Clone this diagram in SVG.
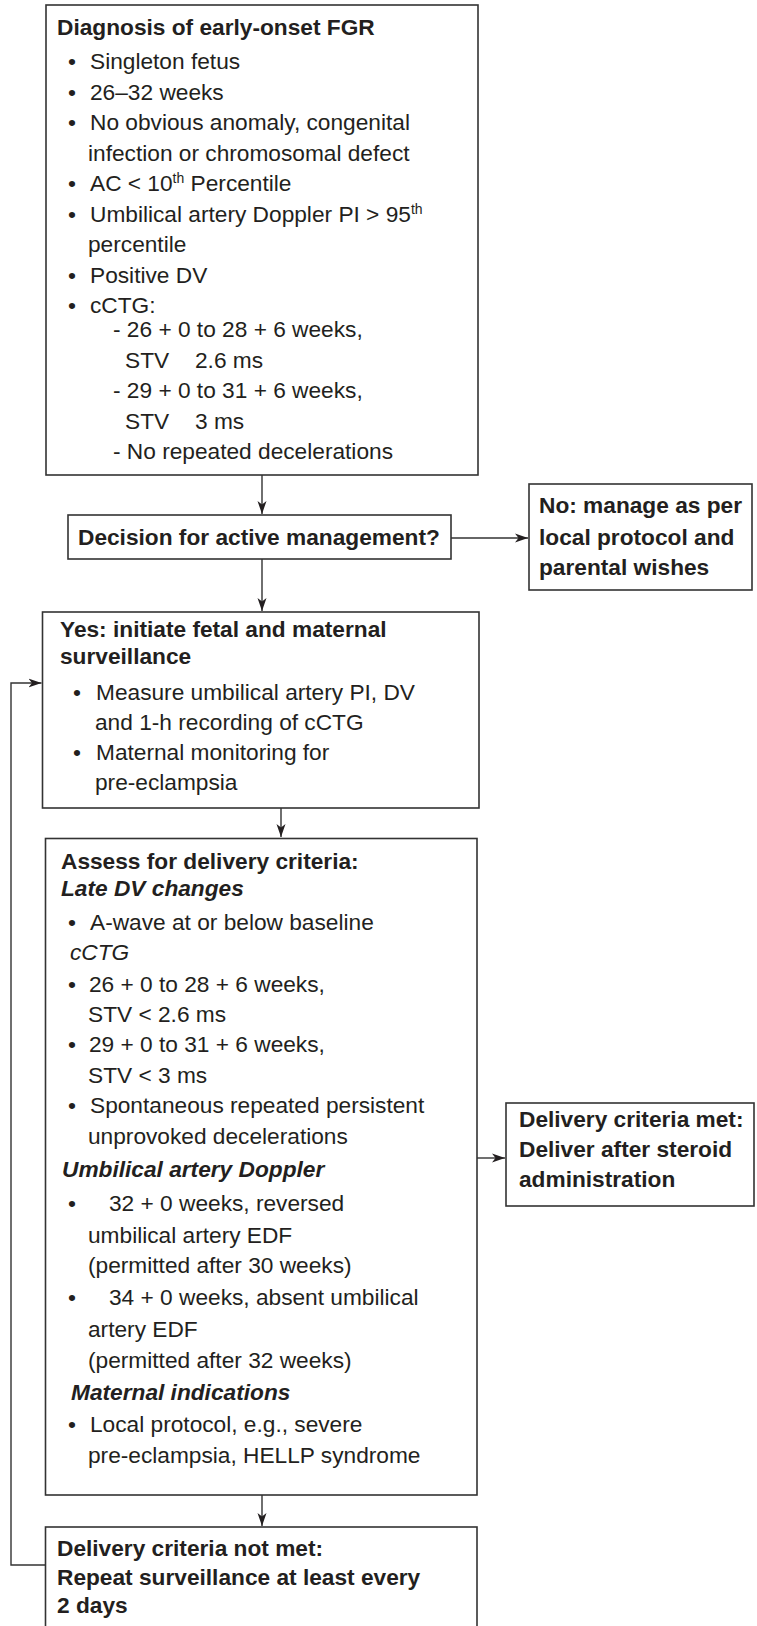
<svg xmlns="http://www.w3.org/2000/svg" width="757" height="1626" viewBox="0 0 757 1626">
<style>
text{font-family:"Liberation Sans",Arial,Helvetica,sans-serif;font-size:22.7px;fill:#231f20}
.b{font-weight:bold}
.i{font-style:italic}
.bi{font-weight:bold;font-style:italic}
.box{fill:#fff;stroke:#333;stroke-width:1.6}
.con{fill:none;stroke:#333;stroke-width:1.4}
</style>
<defs>
<marker id="ah" markerUnits="userSpaceOnUse" markerWidth="14" markerHeight="10" viewBox="0 0 14 10" refX="13" refY="5" orient="auto">
<path d="M0,0.5 L13,5 L0,9.5 L3.5,5 Z" fill="#231f20"/>
</marker>
</defs>
<rect width="757" height="1626" fill="#fff"/>

<g id="connectors">
<line class="con" x1="262" y1="475" x2="262" y2="514" marker-end="url(#ah)"/>
<line class="con" x1="262" y1="559" x2="262" y2="611" marker-end="url(#ah)"/>
<line class="con" x1="451" y1="538" x2="528" y2="538" marker-end="url(#ah)"/>
<line class="con" x1="281" y1="808" x2="281" y2="837" marker-end="url(#ah)"/>
<line class="con" x1="477" y1="1158" x2="505" y2="1158" marker-end="url(#ah)"/>
<line class="con" x1="262" y1="1495" x2="262" y2="1526" marker-end="url(#ah)"/>
<polyline class="con" points="45.5,1565 11,1565 11,683 41.5,683" marker-end="url(#ah)"/>
</g>

<g id="diagnosis">
<rect class="box" x="46" y="5" width="432" height="470"/>
<text class="b" x="57" y="35">Diagnosis of early-onset FGR</text>
<text x="68" y="69">•</text><text x="90" y="69">Singleton fetus</text>
<text x="68" y="100">•</text><text x="90" y="100">26–32 weeks</text>
<text x="68" y="130">•</text><text x="90" y="130">No obvious anomaly, congenital</text>
<text x="88" y="161">infection or chromosomal defect</text>
<text x="68" y="191">•</text><text x="90" y="191">AC &lt; 10<tspan dy="-8" font-size="14">th</tspan><tspan dy="8"> Percentile</tspan></text>
<text x="68" y="222">•</text><text x="90" y="222">Umbilical artery Doppler PI &gt; 95<tspan dy="-8" font-size="14">th</tspan></text>
<text x="88" y="252">percentile</text>
<text x="68" y="283">•</text><text x="90" y="283">Positive DV</text>
<text x="68" y="313">•</text><text x="90" y="313">cCTG:</text>
<text x="113" y="337">- 26 + 0 to 28 + 6 weeks,</text>
<text x="125" y="368">STV <tspan x="195">2.6 ms</tspan></text>
<text x="113" y="398">- 29 + 0 to 31 + 6 weeks,</text>
<text x="125" y="429">STV <tspan x="195">3 ms</tspan></text>
<text x="113" y="459">- No repeated decelerations</text>
</g>

<g id="decision">
<rect class="box" x="68" y="515" width="383" height="44"/>
<text class="b" x="78" y="545">Decision for active management?</text>
</g>

<g id="no-manage">
<rect class="box" x="529" y="484" width="223" height="106"/>
<text class="b" x="539" y="513">No: manage as per</text>
<text class="b" x="539" y="545">local protocol and</text>
<text class="b" x="539" y="575">parental wishes</text>
</g>

<g id="surveillance">
<rect class="box" x="42.5" y="612" width="436.5" height="196"/>
<text class="b" x="60" y="637">Yes: initiate fetal and maternal</text>
<text class="b" x="60" y="664">surveillance</text>
<text x="73" y="700">•</text><text x="96" y="700">Measure umbilical artery PI, DV</text>
<text x="95" y="730">and 1-h recording of cCTG</text>
<text x="73" y="760">•</text><text x="96" y="760">Maternal monitoring for</text>
<text x="95" y="790">pre-eclampsia</text>
</g>

<g id="assess">
<rect class="box" x="45.5" y="838.5" width="431.5" height="656.5"/>
<text class="b" x="61" y="869">Assess for delivery criteria:</text>
<text class="bi" x="61" y="896">Late DV changes</text>
<text x="68" y="930">•</text><text x="90" y="930">A-wave at or below baseline</text>
<text class="i" x="70" y="960">cCTG</text>
<text x="68" y="992">•</text><text x="89" y="992">26 + 0 to 28 + 6 weeks,</text>
<text x="88" y="1022">STV &lt; 2.6 ms</text>
<text x="68" y="1052">•</text><text x="89" y="1052">29 + 0 to 31 + 6 weeks,</text>
<text x="88" y="1083">STV &lt; 3 ms</text>
<text x="68" y="1113">•</text><text x="90" y="1113">Spontaneous repeated persistent</text>
<text x="88" y="1144">unprovoked decelerations</text>
<text class="bi" x="62" y="1177">Umbilical artery Doppler</text>
<text x="68" y="1211">•</text><text x="109" y="1211">32 + 0 weeks, reversed</text>
<text x="88" y="1243">umbilical artery EDF</text>
<text x="88" y="1273">(permitted after 30 weeks)</text>
<text x="68" y="1305">•</text><text x="109" y="1305">34 + 0 weeks, absent umbilical</text>
<text x="88" y="1337">artery EDF</text>
<text x="88" y="1368">(permitted after 32 weeks)</text>
<text class="bi" x="71" y="1400">Maternal indications</text>
<text x="68" y="1432">•</text><text x="90" y="1432">Local protocol, e.g., severe</text>
<text x="88" y="1463">pre-eclampsia, HELLP syndrome</text>
</g>

<g id="deliver">
<rect class="box" x="506" y="1103" width="248" height="103"/>
<text class="b" x="519" y="1127">Delivery criteria met:</text>
<text class="b" x="519" y="1157">Deliver after steroid</text>
<text class="b" x="519" y="1187">administration</text>
</g>

<g id="not-met">
<rect class="box" x="45.5" y="1527" width="431.5" height="110"/>
<text class="b" x="57" y="1556">Delivery criteria not met:</text>
<text class="b" x="57" y="1585">Repeat surveillance at least every</text>
<text class="b" x="57" y="1613">2 days</text>
</g>
</svg>
